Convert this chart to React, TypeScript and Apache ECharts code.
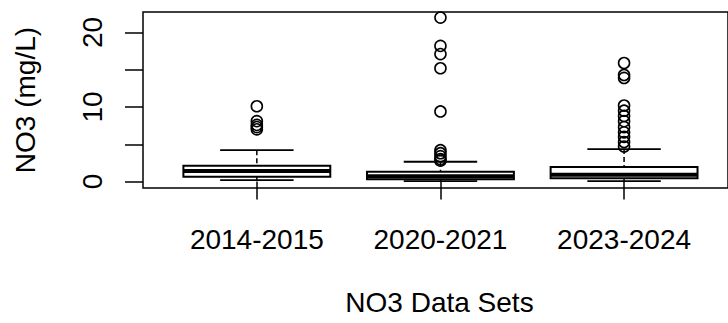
import React, { useEffect, useRef } from "react";
import * as echarts from "echarts";

const categories = ["2014-2015", "2020-2021", "2023-2024"];
const positions = [1, 2, 3];
const whiskerLow = [0.2, 0.05, 0.05];
const q1 = [0.65, 0.3, 0.45];
const medians = [1.4, 0.7, 0.9];
const q3 = [2.1, 1.3, 1.95];
const whiskerHigh = [4.2, 2.65, 4.35];
const outliers2014 = [10.1, 8.1, 7.6, 7.3, 7.0];
const outliers2020 = [22.0, 18.2, 17.1, 15.2, 9.4, 4.2, 3.8, 3.4, 3.0, 2.8];
const outliers2023 = [15.9, 14.3, 13.9, 10.2, 9.5, 8.8, 8.1, 7.3, 6.6, 6.0, 5.3, 4.7];
const yTicks = [0, 5, 10, 15, 20];
const yLabels = [0, 10, 20];

const FONT = "Liberation Sans, Arial, sans-serif";

export default function App() {
  const ref = useRef<HTMLDivElement>(null);
  useEffect(() => {
    if (!ref.current) return;
    const chart = echarts.init(ref.current, undefined, { renderer: "svg" });
    const boxData = positions.map((p, i) => [p, whiskerLow[i], q1[i], medians[i], q3[i], whiskerHigh[i]]);
    const outlierData: number[][] = [];
    [outliers2014, outliers2020, outliers2023].forEach((arr, i) => {
      arr.forEach((v) => outlierData.push([positions[i], v]));
    });
    const stroke = "#000";
    chart.setOption({
      animation: false,
      backgroundColor: "#fff",
      grid: {
        left: 143,
        right: -3,
        top: 12,
        bottom: 135,
        show: true,
        borderColor: "#000",
        borderWidth: 1.5,
        backgroundColor: "transparent",
      },
      xAxis: {
        type: "value",
        min: 0.38,
        max: 3.566,
        splitLine: { show: false },
        axisLine: { show: false },
        axisTick: { show: true, length: 18, lineStyle: { color: stroke, width: 1.5 }, customValues: positions },
        axisLabel: {
          customValues: positions,
          formatter: (v: number) => categories[positions.indexOf(Math.round(v))] ?? "",
          fontSize: 28,
          fontFamily: FONT,
          color: "#000",
          margin: 37,
        },
        name: "NO3 Data Sets",
        nameLocation: "middle",
        nameGap: 100,
        nameTextStyle: { fontSize: 28, fontFamily: FONT, color: "#000", padding: [0, 0, 0, 8] },
      },
      yAxis: {
        type: "value",
        min: -0.87,
        max: 22.75,
        splitLine: { show: false },
        axisLine: { show: false },
        axisTick: { show: true, length: 18, lineStyle: { color: stroke, width: 1.5 }, customValues: yTicks },
        axisLabel: {
          customValues: yLabels,
          rotate: 90,
          fontSize: 28,
          fontFamily: FONT,
          color: "#000",
          margin: 37,
        },
        name: "NO3 (mg/L)",
        nameLocation: "middle",
        nameGap: 104,
        nameTextStyle: { fontSize: 28, fontFamily: FONT, color: "#000" },
      },
      series: [
        {
          type: "custom",
          data: boxData,
          encode: { x: 0, y: [1, 2, 3, 4, 5] },
          renderItem: (params: any, api: any) => {
            const x = api.value(0);
            const lo = api.coord([x, api.value(1)]);
            const b1 = api.coord([x, api.value(2)]);
            const md = api.coord([x, api.value(3)]);
            const b3 = api.coord([x, api.value(4)]);
            const hi = api.coord([x, api.value(5)]);
            const w = api.size([0.8, 0])[0];
            const cx = lo[0];
            const dash = { stroke, lineWidth: 1.5, lineDash: [5, 3] };
            const solid = { stroke, lineWidth: 1.8 };
            return {
              type: "group",
              children: [
                { type: "line", shape: { x1: cx, y1: hi[1], x2: cx, y2: b3[1] }, style: dash },
                { type: "line", shape: { x1: cx, y1: b1[1], x2: cx, y2: lo[1] }, style: dash },
                { type: "line", shape: { x1: cx - w / 4, y1: hi[1], x2: cx + w / 4, y2: hi[1] }, style: solid },
                { type: "line", shape: { x1: cx - w / 4, y1: lo[1], x2: cx + w / 4, y2: lo[1] }, style: solid },
                {
                  type: "rect",
                  shape: { x: cx - w / 2, y: b3[1], width: w, height: b1[1] - b3[1] },
                  style: { fill: "#fff", stroke, lineWidth: 2 },
                },
                { type: "line", shape: { x1: cx - w / 2, y1: md[1], x2: cx + w / 2, y2: md[1] }, style: { stroke, lineWidth: 4 } },
              ],
            };
          },
          z: 2,
        },
        {
          type: "scatter",
          data: outlierData,
          symbol: "circle",
          symbolSize: 11,
          itemStyle: { color: "rgba(0,0,0,0)", borderColor: "#000", borderWidth: 1.6, opacity: 1 },
          z: 3,
        },
      ],
    });
    return () => chart.dispose();
  }, []);
  return (
    <div
      ref={ref}
      style={{ position: "absolute", left: 0, top: 0, width: 728, height: 323, background: "#fff" }}
    />
  );
}
